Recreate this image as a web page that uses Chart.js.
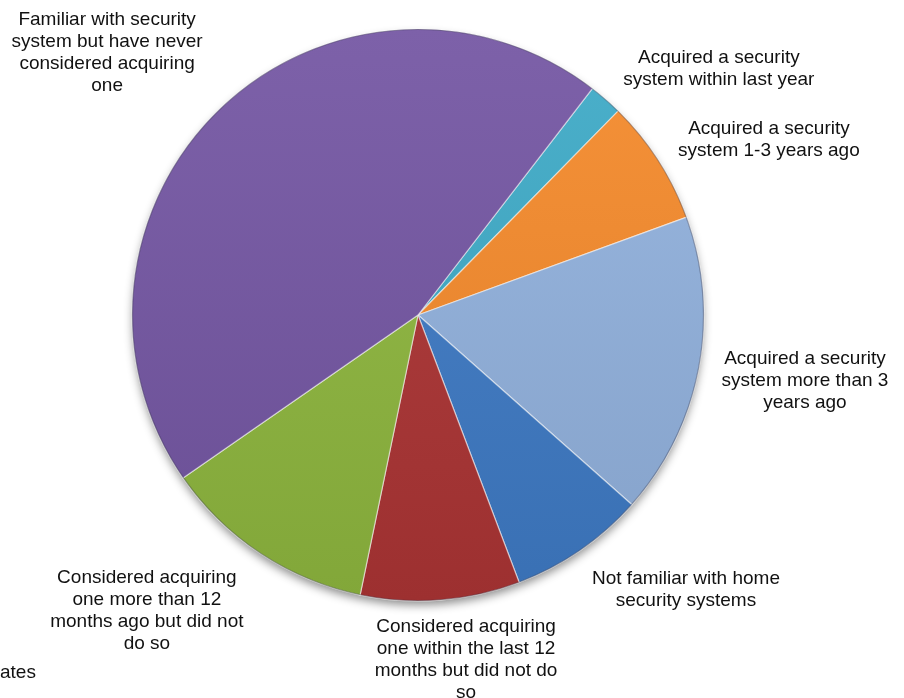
<!DOCTYPE html>
<html>
<head>
<meta charset="utf-8">
<script src="https://cdn.jsdelivr.net/npm/chart.js@4.4.0/dist/chart.umd.min.js"></script>
<style>
  html, body { margin: 0; padding: 0; background: #fff; }
  #wrap { position: relative; width: 904px; height: 698px; }
</style>
</head>
<body>
<div id="wrap"><canvas id="myChart" width="904" height="698"></canvas></div>
<script>
// categories, one line per array entry (as wrapped in the original)
const categories = [
    ['Acquired a security', 'system within last year'],
    ['Acquired a security', 'system 1-3 years ago'],
    ['Acquired a security', 'system more than 3', 'years ago'],
    ['Not familiar with home', 'security systems'],
    ['Considered acquiring', 'one within the last 12', 'months but did not do', 'so'],
    ['Considered acquiring', 'one more than 12', 'months ago but did not', 'do so'],
    ['Familiar with security', 'system but have never', 'considered acquiring', 'one']
];
// share of respondents, percent
const shares = [1.9, 7.1, 17.1, 7.7, 9.0, 12.1, 45.1];
const sliceColors = ['#3fabc8', '#f58b2c', '#92b2de', '#3f7bc6', '#ad3535', '#8fb83f', '#7557a4'];

// where each label block sits, in pie radii from the centre
const labelPlace = [
    [1.052, -0.860],
    [1.227, -0.612],
    [1.353, 0.231],
    [0.937, 0.962],
    [0.168, 1.206],
    [-0.948, 1.035],
    [-1.087, -0.916]
];

function shade(hex, amt) {
    const n = parseInt(hex.slice(1), 16);
    let r = (n >> 16) & 255, g = (n >> 8) & 255, b = n & 255;
    const f = c => Math.round(amt >= 0 ? c + (255 - c) * amt : c * (1 + amt));
    return `rgb(${f(r)}, ${f(g)}, ${f(b)})`;
}

const shadowPlugin = {
    id: 'pieShadow',
    beforeDatasetsDraw(chart) {
        const arc = chart.getDatasetMeta(0).data[0];
        if (!arc) return;
        const ctx = chart.ctx;
        ctx.save();
        ctx.shadowColor = 'rgba(0,0,0,0.45)';
        ctx.shadowBlur = 10;
        ctx.shadowOffsetY = 5;
        ctx.beginPath();
        ctx.arc(arc.x, arc.y, arc.outerRadius - 1, 0, Math.PI * 2);
        ctx.fillStyle = '#666';
        ctx.fill();
        ctx.restore();
    },
    afterDatasetsDraw(chart) {
        const arc = chart.getDatasetMeta(0).data[0];
        if (!arc) return;
        const ctx = chart.ctx;
        ctx.save();
        ctx.beginPath();
        ctx.arc(arc.x, arc.y, arc.outerRadius - 0.5, 0, Math.PI * 2);
        ctx.strokeStyle = 'rgba(40,40,60,0.35)';
        ctx.lineWidth = 1.2;
        ctx.stroke();
        ctx.restore();
    }
};

const labelPlugin = {
    id: 'sliceLabels',
    afterDraw(chart) {
        const ctx = chart.ctx;
        const arcs = chart.getDatasetMeta(0).data;
        ctx.save();
        ctx.font = '19px "Liberation Sans", Arial, sans-serif';
        ctx.fillStyle = '#111';
        ctx.textAlign = 'center';
        ctx.textBaseline = 'middle';
        const lh = 22;
        arcs.forEach((arc, i) => {
            const lines = categories[i];
            const cx = arc.x + labelPlace[i][0] * arc.outerRadius;
            const cy = arc.y + labelPlace[i][1] * arc.outerRadius;
            const y0 = cy - (lines.length - 1) * lh / 2;
            lines.forEach((t, k) => ctx.fillText(t, cx, y0 + k * lh));
        });
        // leftover legend text cut off at the left edge
        ctx.textAlign = 'left';
        ctx.fillText('ates', 0, 673);
        ctx.restore();
    }
};

const ctx = document.getElementById('myChart').getContext('2d');
const myChart = new Chart(ctx, {
    type: 'pie',
    data: {
        labels: categories,
        datasets: [{
            data: shares,
            backgroundColor: function(c) {
                const base = sliceColors[c.dataIndex];
                const area = c.chart.chartArea;
                if (!area) return base;
                const g = c.chart.ctx.createLinearGradient(0, area.top, 0, area.bottom);
                g.addColorStop(0, shade(base, 0.06));
                g.addColorStop(1, shade(base, -0.09));
                return g;
            },
            borderColor: 'rgba(255,255,255,0.55)',
            borderWidth: 1.2,
            radius: 286
        }]
    },
    options: {
        responsive: false,
        animation: false,
        rotation: 37.6,
        layout: { padding: { left: 132, right: 200, top: 29, bottom: 97 } },
        plugins: {
            legend: { display: false },
            tooltip: { enabled: false }
        }
    },
    plugins: [shadowPlugin, labelPlugin]
});
</script>
</body>
</html>
